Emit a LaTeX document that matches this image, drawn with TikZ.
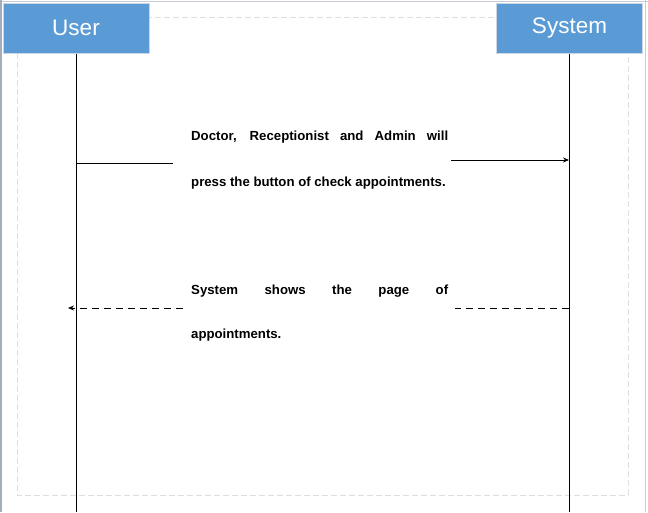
\documentclass[tikz,border=0pt]{standalone}
\usepackage{fontspec}
\setmainfont{Liberation Sans}
\usetikzlibrary{arrows.meta}
\definecolor{hdrblue}{RGB}{91,155,213}
\definecolor{hdrborder}{RGB}{205,215,228}
\definecolor{frameleft}{RGB}{165,172,188}
\definecolor{frameother}{RGB}{200,204,212}
\definecolor{dashgray}{RGB}{222,222,222}
\begin{document}
\begin{tikzpicture}[x=1pt,y=-1pt,
  hdr/.style={draw=hdrborder,line width=1pt,fill=hdrblue,minimum width=146pt,minimum height=50pt,
    inner sep=0pt,text=white,font=\fontsize{22.5}{26}\selectfont},
  life/.style={line width=0.8pt,black},
  msg/.style={font=\bfseries\fontsize{13.2}{15}\selectfont,inner sep=0pt,anchor=west},
  tip/.style={-{Stealth[length=6pt,width=5pt]}},
  ]
\useasboundingbox (0,0) rectangle (648,512);
% outer frame
\draw[frameother,line width=1pt] (0,1) -- (648,1);
\draw[frameleft,line width=1.5pt] (1,0) -- (1,512);
\draw[frameother,line width=1.5pt] (645.5,0) -- (645.5,512);
% inner dashed frame
\draw[dashgray,dashed,line width=0.8pt,dash pattern=on 6pt off 3pt] (17,17) rectangle (628,495);
% headers
\node[hdr] (user) at (76,28) {User};
\node[hdr] (sys) at (569.5,28) {System};
% lifelines
\coordinate (ubot) at (76,512);
\coordinate (sbot) at (569,512);
\draw[life] (user.south) -- (ubot);
\draw[life] (user.south -| sbot) -- (sbot);
% message 1
\node[msg] (m1a) at (191,137) {\makebox[257pt][s]{Doctor, Receptionist and Admin will}};
\node[msg] (m1b) at (191,183) {press the button of check appointments.};
\coordinate (m1s) at (76,163);
\coordinate (m1e) at (173,163);
\coordinate (m1f) at (451,160);
\coordinate (m1t) at (569,160);
\draw[line width=0.8pt] (m1s) -- (m1e);
\draw[line width=0.8pt,tip] (m1f) -- (m1t);
% message 2
\node[msg] (m2a) at (191,291) {\makebox[257pt][s]{System shows the page of}};
\node[msg] (m2b) at (191,335) {appointments.};
\coordinate (m2s) at (569,308);
\coordinate (m2e) at (455,308);
\coordinate (m2f) at (183,308);
\coordinate (m2t) at (68,308);
\draw[line width=0.8pt,dash pattern=on 7pt off 5pt] (m2s) -- (m2e);
\draw[line width=0.8pt,dash pattern=on 7pt off 5pt,tip] (m2f) -- (m2t);
\end{tikzpicture}
\end{document}
